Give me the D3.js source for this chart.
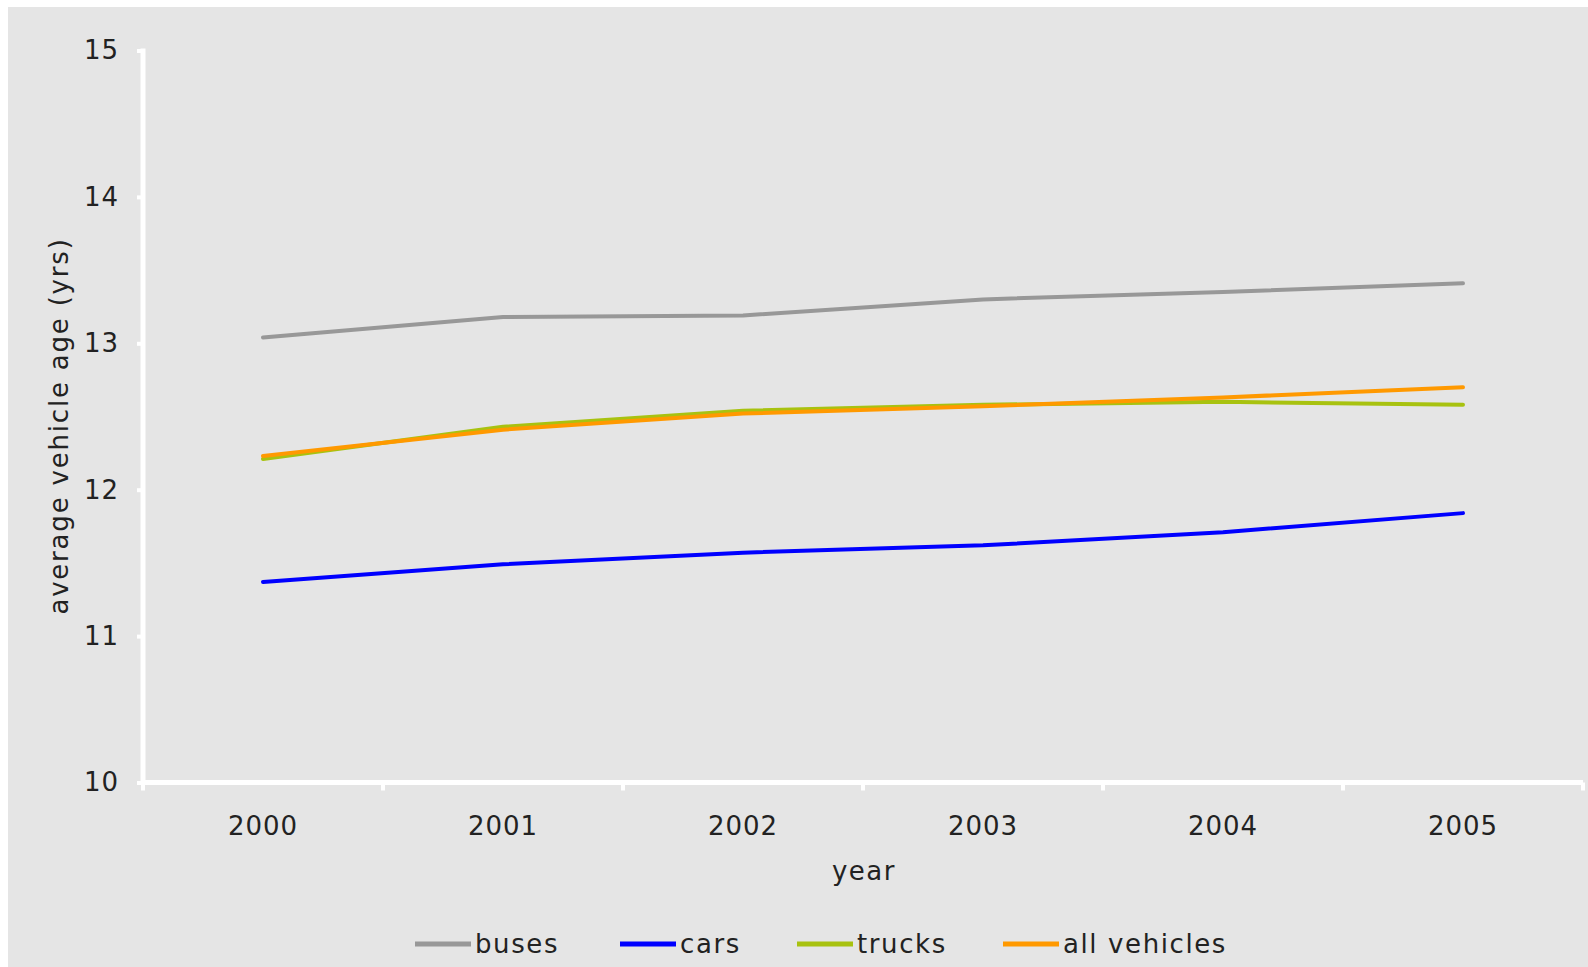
<!DOCTYPE html>
<html lang="en">
<head>
<meta charset="UTF-8">
<title>Average vehicle age</title>
<script src="https://cdn.jsdelivr.net/npm/d3@7"></script>
<style>
  body { margin: 0; background: #fff; }
  text { font-family: "DejaVu Sans", Verdana, sans-serif; fill: #222; }
</style>
</head>
<body>
<svg id="chart" width="1588" height="967"></svg>
<script>
// data
var years = ["2000", "2001", "2002", "2003", "2004", "2005"];
var buses = [13.04, 13.18, 13.19, 13.30, 13.35, 13.41];
var cars = [11.37, 11.49, 11.57, 11.62, 11.71, 11.84];
var trucks = [12.21, 12.43, 12.54, 12.58, 12.60, 12.58];
var allVehicles = [12.23, 12.41, 12.52, 12.57, 12.63, 12.70];
var yTicks = [10, 11, 12, 13, 14, 15];

var series = [
  {name: "buses", values: buses, color: "#989898"},
  {name: "cars", values: cars, color: "#0000ff"},
  {name: "trucks", values: trucks, color: "#a8c210"},
  {name: "all vehicles", values: allVehicles, color: "#ff9900"}
];

var svg = d3.select("#chart");

// grey panel
svg.append("rect")
  .attr("x", 8).attr("y", 7)
  .attr("width", 1580).attr("height", 960)
  .attr("fill", "#e5e5e5");

var x = d3.scaleBand().domain(years).range([143, 1583]).padding(0);
var y = d3.scaleLinear().domain([10, 15]).range([782.5, 50.5]);

// y axis
var yAxis = svg.append("g")
  .attr("transform", "translate(143,0)")
  .call(d3.axisLeft(y).tickValues(yTicks).tickSize(6).tickPadding(18).tickFormat(d3.format("d")));
yAxis.select(".domain").remove();
yAxis.selectAll(".tick line").attr("stroke", "#fff").attr("stroke-width", 4);
yAxis.selectAll("text").style("font-size", "26px").attr("letter-spacing", "1px");

svg.append("line")
  .attr("x1", 143).attr("x2", 143)
  .attr("y1", y(15) - 2).attr("y2", y(10) + 2)
  .attr("stroke", "#fff").attr("stroke-width", 5);

// x axis labels
var xAxis = svg.append("g")
  .attr("transform", "translate(0," + y(10) + ")")
  .call(d3.axisBottom(x).tickSize(0).tickPadding(34));
xAxis.select(".domain").remove();
xAxis.selectAll("text").style("font-size", "26px").attr("letter-spacing", "1px");

// band boundary ticks
var bounds = years.map(function(d) { return x(d); }).concat([x.range()[1]]);
svg.append("g").selectAll("line")
  .data(bounds)
  .enter().append("line")
  .attr("x1", function(d) { return d; })
  .attr("x2", function(d) { return d; })
  .attr("y1", y(10))
  .attr("y2", y(10) + 8)
  .attr("stroke", "#fff")
  .attr("stroke-width", 4);

svg.append("line")
  .attr("x1", 141).attr("x2", 1583)
  .attr("y1", y(10)).attr("y2", y(10))
  .attr("stroke", "#fff").attr("stroke-width", 5);

// axis titles
svg.append("text")
  .attr("x", 864).attr("y", 880)
  .attr("text-anchor", "middle")
  .attr("letter-spacing", "1.5px")
  .style("font-size", "26px")
  .text("year");

svg.append("text")
  .attr("transform", "translate(68,426) rotate(-90)")
  .attr("text-anchor", "middle")
  .attr("letter-spacing", "1.8px")
  .style("font-size", "26px")
  .text("average vehicle age (yrs)");

// lines
var line = d3.line()
  .x(function(d, i) { return x(years[i]) + x.bandwidth() / 2; })
  .y(function(d) { return y(d); });

svg.append("g").selectAll("path")
  .data(series)
  .enter().append("path")
  .attr("d", function(s) { return line(s.values); })
  .attr("fill", "none")
  .attr("stroke", function(s) { return s.color; })
  .attr("stroke-width", 4)
  .attr("stroke-linecap", "round")
  .attr("stroke-linejoin", "round");

// legend
var legendX = [415, 620, 797, 1003];
var legend = svg.append("g").selectAll("g")
  .data(series)
  .enter().append("g")
  .attr("transform", function(d, i) { return "translate(" + legendX[i] + ",944)"; });

legend.append("line")
  .attr("x1", 0).attr("x2", 56)
  .attr("stroke", function(d) { return d.color; })
  .attr("stroke-width", 5);

legend.append("text")
  .attr("x", 60).attr("dy", "0.35em")
  .attr("letter-spacing", "1.6px")
  .style("font-size", "26px")
  .text(function(d) { return d.name; });
</script>
</body>
</html>
